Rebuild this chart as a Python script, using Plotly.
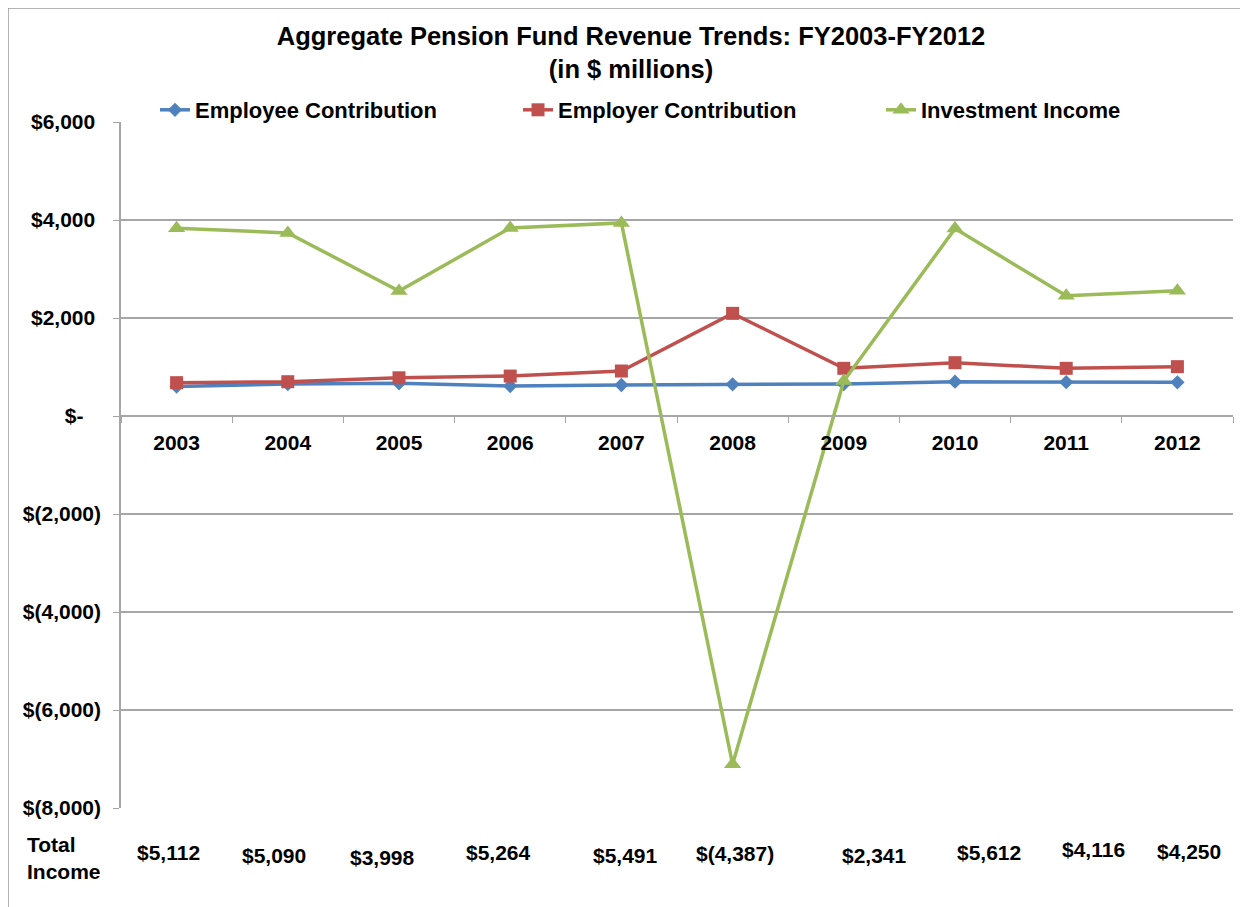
import plotly.graph_objects as go

years = ["2003", "2004", "2005", "2006", "2007", "2008", "2009", "2010", "2011", "2012"]
employee = [600, 653, 667, 612, 633, 646, 653, 700, 690, 687]
employer = [680, 700, 780, 815, 918, 2095, 973, 1088, 973, 1007]
investment = [3832, 3737, 2551, 3837, 3940, -7107, 715, 3824, 2453, 2556]
total_labels = ["$5,112", "$5,090", "$3,998", "$5,264", "$5,491", "$(4,387)",
                "$2,341", "$5,612", "$4,116", "$4,250"]
y_tickvals = [6000, 4000, 2000, 0, -2000, -4000, -6000, -8000]
y_ticktext = ["$6,000", "$4,000", "$2,000", "$-", "$(2,000)", "$(4,000)", "$(6,000)", "$(8,000)"]

# accounting-format trailing padding (non-breaking spaces) per tick label
NB = "\u00a0"
y_tickpad = [1, 1, 1, 3, 0, 0, 0, 0]

# label placement tweaks (pixels) for the total-income text boxes
label_dx = [-8, -14, -17, -12, 4, 2, 31, 34, 27, 12]
label_dy = [44, 47, 49, 44, 47, 45, 47, 44, 41, 43]

FONT = "Liberation Sans, Arial, sans-serif"
grid = "#a6a6a6"

fig = go.Figure()
series = [
    ("Employee Contribution", employee, "#4F81BD", "diamond", 11, None),
    ("Employer Contribution", employer, "#C0504D", "square", 13, None),
    ("Investment Income", investment, "#9BBB59", "triangle-up", 15, 220),
]
for name, vals, col, sym, sz, lw in series:
    fig.add_trace(go.Scatter(
        x=years, y=vals, name=name, mode="lines+markers",
        line=dict(color=col, width=3.5),
        marker=dict(symbol=sym, size=sz, color=col),
        legendwidth=lw,
    ))

# page has an 8px body margin: figure pixel = page pixel - 8
OFF = 8
W, H = 1248 - OFF, 907 - OFF
L = 121 - OFF
R = W - (1233 - OFF)
T = 122 - OFF
B = H - (808 - OFF)
ph = H - T - B
pw = W - L - R
ymin, ymax = -8000, 6000
zero_pos = (0 - ymin) / (ymax - ymin)

annotations = []
for i, lab in enumerate(total_labels):
    annotations.append(dict(
        x=i, xref="x", y=0, yref="paper", text=lab, showarrow=False,
        xshift=label_dx[i], yshift=-label_dy[i], yanchor="middle", xanchor="center",
        font=dict(family=FONT, size=21, color="black", weight="bold"),
    ))
annotations.append(dict(
    x=(25 - 121) / pw, xref="paper", y=0, yref="paper", yshift=-50,
    text="Total<br>Income", showarrow=False, xanchor="left", yanchor="middle", align="left",
    font=dict(family=FONT, size=21, color="black", weight="bold"),
))

fig.update_layout(
    width=W, height=H,
    margin=dict(l=L, r=R, t=T, b=B, autoexpand=False),
    paper_bgcolor="white", plot_bgcolor="white",
    title=dict(
        text="Aggregate Pension Fund Revenue Trends: FY2003-FY2012<br>(in $ millions)",
        x=(631 - OFF) / W, xanchor="center", y=1 - 37 / H, yanchor="middle",
        font=dict(family=FONT, size=25.5, color="black", weight="bold"),
    ),
    legend=dict(
        orientation="h", x=(155 - 121) / pw, xanchor="left",
        y=(808 - 110) / ph, yanchor="middle",
        font=dict(family=FONT, size=22, color="black", weight="bold"),
        entrywidth=318, entrywidthmode="pixels", bgcolor="rgba(0,0,0,0)",
        tracegroupgap=0, itemwidth=30,
    ),
    xaxis=dict(
        type="category", range=[-0.5, 9.5], anchor="free", position=zero_pos,
        showgrid=False, showline=True, linecolor=grid, linewidth=1.5,
        ticks="outside", ticklen=6, tickcolor=grid, tickson="boundaries",
        ticklabelstandoff=8,
        tickfont=dict(family=FONT, size=21, color="black", weight="bold"),
        zeroline=False,
    ),
    yaxis=dict(
        range=[ymin, ymax], tickvals=y_tickvals,
        ticktext=[t + NB * p for t, p in zip(y_ticktext, y_tickpad)],
        showgrid=True, gridcolor=grid, gridwidth=1.5,
        showline=True, linecolor=grid, linewidth=1.5,
        ticks="outside", ticklen=6, tickcolor=grid, ticklabelstandoff=8,
        tickfont=dict(family=FONT, size=21, color="black", weight="bold"),
        zeroline=False,
    ),
    annotations=annotations,
    shapes=[dict(type="rect", xref="paper", yref="paper",
                 x0=(8 - 121) / pw, x1=(1270 - 121) / pw,
                 y0=(808 - 930) / ph, y1=(808 - 8) / ph,
                 line=dict(color="#9a9a9a", width=1.5), fillcolor="rgba(0,0,0,0)",
                 layer="below")],
    showlegend=True,
)

fig.write_html("out.html")
